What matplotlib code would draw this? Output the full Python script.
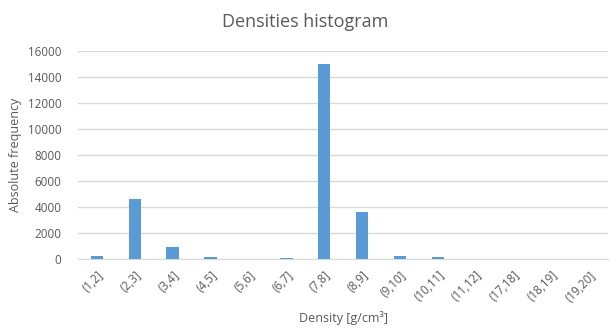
import matplotlib.pyplot as plt

# density bins and how many samples fall in each
bins = ['(1,2]', '(2,3]', '(3,4]', '(4,5]', '(5,6]', '(6,7]', '(7,8]',
        '(8,9]', '(9,10]', '(10,11]', '(11,12]', '(17,18]', '(18,19]', '(19,20]']
counts = [230, 4650, 920, 130, 0, 80, 15000, 3600, 250, 130, 0, 0, 0, 0]

TEXT_COLOR = '#595959'
BAR_COLOR = '#5b9bd5'
GRID_COLOR = '#d9d9d9'

plt.rcParams['font.family'] = ['Open Sans', 'DejaVu Sans']


def draw_histogram():
    fig = plt.figure(figsize=(6.1, 3.31), dpi=100)
    ax = fig.add_axes([0.128, 0.2175, 0.869, 0.628])

    x = range(len(bins))
    ax.bar(x, counts, width=0.33, color=BAR_COLOR, zorder=3)

    ax.set_xlim(-0.5, len(bins) - 0.5)
    ax.set_ylim(0, 16000)
    ax.set_yticks(range(0, 16001, 2000))
    ax.yaxis.grid(True, color=GRID_COLOR, linewidth=1)
    ax.set_axisbelow(True)

    ax.set_xticks(list(x))
    ax.set_xticklabels(bins, rotation=45, ha='right', rotation_mode='anchor')
    ax.tick_params(axis='both', length=0, labelsize=8.4, colors=TEXT_COLOR)
    ax.tick_params(axis='x', pad=7)
    ax.tick_params(axis='y', pad=12)

    for side in ['top', 'right', 'left']:
        ax.spines[side].set_visible(False)
    ax.spines['bottom'].set_color(GRID_COLOR)

    ax.set_xlabel('Density [g/cm³]', fontsize=9, color=TEXT_COLOR, labelpad=5)
    ax.set_ylabel('Absolute frequency', fontsize=9, color=TEXT_COLOR, labelpad=4)
    fig.suptitle('Densities histogram', fontsize=13, color=TEXT_COLOR, y=0.96)

    fig.savefig('out.png', dpi=100)


def main():
    draw_histogram()


if __name__ == '__main__':
    main()
